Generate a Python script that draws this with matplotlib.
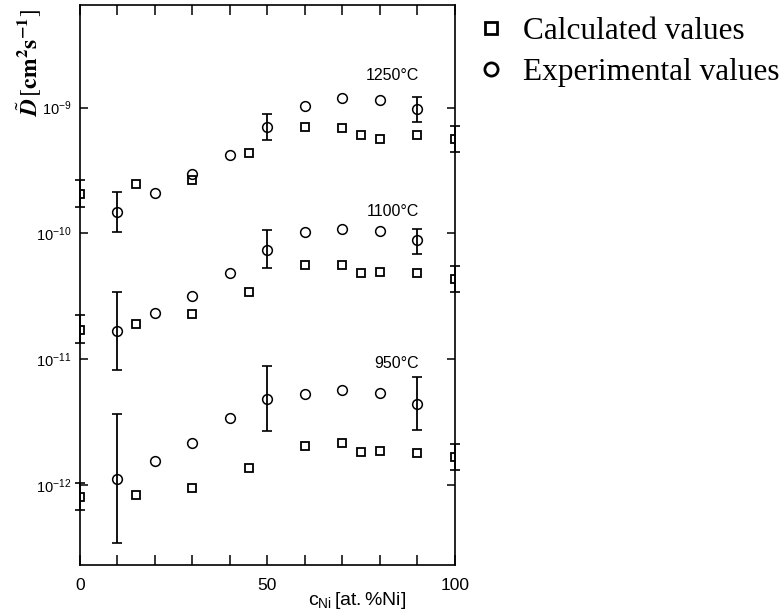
import matplotlib
matplotlib.use('Agg')
import matplotlib.pyplot as plt
from matplotlib.ticker import FixedLocator, NullFormatter, NullLocator

plt.rcParams['mathtext.fontset'] = 'custom'
plt.rcParams['mathtext.rm'] = 'Liberation Sans'
plt.rcParams['mathtext.it'] = 'Liberation Sans:italic'
plt.rcParams['mathtext.bf'] = 'Liberation Sans:bold'
plt.rcParams['font.family'] = ['Liberation Sans', 'DejaVu Sans']

# --- data (D in cm^2/s, c_Ni in at.%) ---
x_calc = [0, 15, 30, 45, 60, 70, 75, 80, 90, 100]
calc_1250 = [2.05e-10, 2.46e-10, 2.64e-10, 4.37e-10, 7.0e-10, 6.87e-10, 6.07e-10, 5.61e-10, 6.07e-10, 5.65e-10]
calc_1100 = [1.72e-11, 1.92e-11, 2.29e-11, 3.43e-11, 5.57e-11, 5.65e-11, 4.85e-11, 4.9e-11, 4.85e-11, 4.35e-11]
calc_950 = [8.1e-13, 8.4e-13, 9.4e-13, 1.37e-12, 2.06e-12, 2.17e-12, 1.83e-12, 1.87e-12, 1.81e-12, 1.67e-12]

x_exp = [10, 20, 30, 40, 50, 60, 70, 80, 90]
exp_1250 = [1.48e-10, 2.09e-10, 2.99e-10, 4.19e-10, 6.99e-10, 1.04e-9, 1.19e-9, 1.15e-9, 9.7e-10]
exp_1100 = [1.69e-11, 2.33e-11, 3.2e-11, 4.85e-11, 7.43e-11, 1.03e-10, 1.09e-10, 1.05e-10, 8.8e-11]
exp_950 = [1.12e-12, 1.55e-12, 2.17e-12, 3.43e-12, 4.87e-12, 5.31e-12, 5.65e-12, 5.34e-12, 4.37e-12]

# error bars: (value, low, high)
err_exp_x = [10, 50, 90]
err_1250 = [(1.48e-10, 1.02e-10, 2.13e-10), (6.99e-10, 5.54e-10, 8.87e-10), (9.7e-10, 7.66e-10, 1.21e-9)]
err_1100 = [(1.69e-11, 8.28e-12, 3.40e-11), (7.43e-11, 5.31e-11, 1.07e-10), (8.8e-11, 6.90e-11, 1.08e-10)]
err_950 = [(1.12e-12, 3.49e-13, 3.64e-12), (4.87e-12, 2.69e-12, 8.79e-12), (4.37e-12, 2.73e-12, 7.23e-12)]

err_calc_x = [0, 100]
err_calc_1250 = [(2.05e-10, 1.61e-10, 2.67e-10), (5.65e-10, 4.48e-10, 7.16e-10)]
err_calc_1100 = [(1.72e-11, 1.35e-11, 2.26e-11), (4.35e-11, 3.43e-11, 5.47e-11)]
err_calc_950 = [(8.1e-13, 6.34e-13, 1.03e-12), (1.67e-12, 1.31e-12, 2.13e-12)]

temp_labels = ['1250°C', '1100°C', '950°C']
temp_label_x = [83.5, 83.5, 84.5]
temp_label_y = [1.79e-9, 1.49e-10, 9.3e-12]

y_ticks = [1e-12, 1e-11, 1e-10, 1e-9]

fig = plt.figure(figsize=(7.84, 6.13), dpi=100)
ax = fig.add_axes([0.102, 0.0783, 0.478, 0.9135])

mk = dict(color='black', markerfacecolor='none', markeredgecolor='black', linestyle='none')
for vals in (calc_1250, calc_1100, calc_950):
    ax.plot(x_calc, vals, marker='s', markersize=5.6, markeredgewidth=1.3, **mk)
for vals in (exp_1250, exp_1100, exp_950):
    ax.plot(x_exp, vals, marker='o', markersize=7, markeredgewidth=1.1, **mk)

for xs, errs in ((err_exp_x, err_1250), (err_exp_x, err_1100), (err_exp_x, err_950),
                 (err_calc_x, err_calc_1250), (err_calc_x, err_calc_1100), (err_calc_x, err_calc_950)):
    ys = [e[0] for e in errs]
    lo = [e[0] - e[1] for e in errs]
    hi = [e[2] - e[0] for e in errs]
    ax.errorbar(xs, ys, yerr=[lo, hi], fmt='none', ecolor='black', elinewidth=1.3,
                capsize=3.5, capthick=1.2, clip_on=False)

ax.set_yscale('log')
ax.set_xlim(0, 100)
ax.set_ylim(10 ** -12.636, 10 ** -8.184)

ax.xaxis.set_major_locator(FixedLocator([0, 50, 100]))
ax.xaxis.set_minor_locator(FixedLocator([10, 20, 30, 40, 60, 70, 80, 90]))
ax.xaxis.set_minor_formatter(NullFormatter())
ax.yaxis.set_major_locator(FixedLocator(y_ticks))
ax.yaxis.set_minor_locator(NullLocator())
ax.yaxis.set_minor_formatter(NullFormatter())
ax.tick_params(which='both', direction='in', top=True, right=True, width=1.1, color='black')
ax.tick_params(which='major', length=7, labelsize=12.5, pad=9)
ax.tick_params(which='minor', length=7)
ax.tick_params(axis='y', which='major', length=6, labelsize=10.5, pad=6)
for sp in ax.spines.values():
    sp.set_linewidth(1.2)

for lbl, xv, yv in zip(temp_labels, temp_label_x, temp_label_y):
    ax.text(xv, yv, lbl, ha='center', va='center', fontsize=11.5)

ax.annotate(r'$\mathregular{c_{Ni}\,[at.\%Ni]}$', xy=(74, 10 ** -12.636), xycoords='data',
            xytext=(0, -18), textcoords='offset points', ha='center', va='top', fontsize=14)

fig.text(0.038, 0.985, r'$\tilde{\mathbfit{D}}\,[\mathbf{cm^2s^{-1}}]$', rotation=90,
         ha='center', va='top', fontsize=17, family='Liberation Serif',
         math_fontfamily='stix')

# legend at right
fig.legend(handles=[
    plt.Line2D([], [], marker='s', markersize=9, markeredgewidth=2, **mk),
    plt.Line2D([], [], marker='o', markersize=9.5, markeredgewidth=2, **mk)],
    labels=['Calculated values', 'Experimental values'],
    loc='upper left', bbox_to_anchor=(0.59, 0.993), frameon=False,
    prop={'family': 'Liberation Serif', 'size': 22.5}, handlelength=1.0,
    handletextpad=0.55, labelspacing=0.38, borderaxespad=0.0)

fig.savefig('out.png', dpi=100)
